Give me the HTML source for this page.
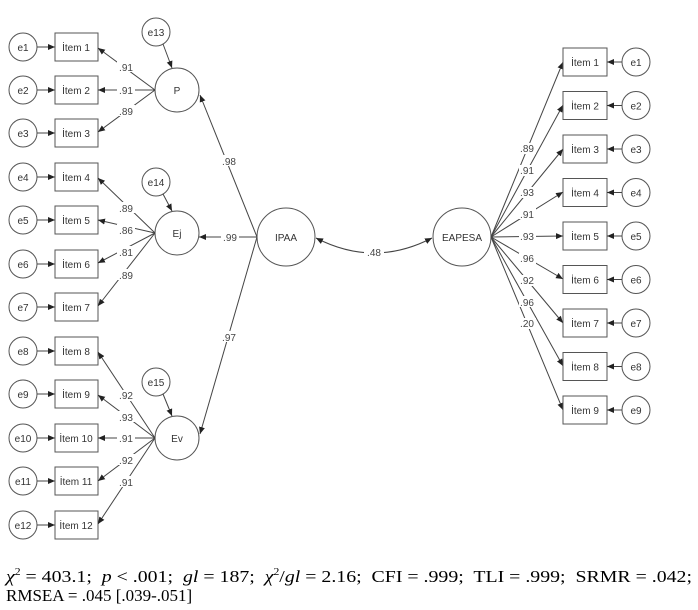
<!DOCTYPE html>
<html><head><meta charset="utf-8"><style>
body{margin:0;background:#fff;}
svg{display:block;font-family:"Liberation Sans",Arial,sans-serif;}
.t{font-size:10px;fill:#333;text-anchor:middle;}
.l{font-size:10px;fill:#444;text-anchor:middle;}
line,path{stroke:#444;stroke-width:1;fill:none;}
circle,rect{stroke:#555;stroke-width:1;fill:#fff;}
.st{white-space:pre;}
</style></head><body>
<svg width="698" height="610" viewBox="0 0 698 610">
<defs><marker id="a" markerWidth="8" markerHeight="8" refX="7" refY="3" orient="auto" markerUnits="userSpaceOnUse"><path d="M0,0 L7,3 L0,6 z" style="fill:#222;stroke:none"/></marker>
<marker id="s" markerWidth="8" markerHeight="8" refX="0" refY="3" orient="auto" markerUnits="userSpaceOnUse"><path d="M7,0 L0,3 L7,6 z" style="fill:#222;stroke:none"/></marker></defs>

<g>
<circle cx="23" cy="47" r="14"/><text class="t" x="23" y="51">e1</text><line x1="37" y1="47" x2="55" y2="47" marker-end="url(#a)"/><rect x="55" y="33" width="43" height="28"/><text class="t" x="76" y="51">İtem 1</text>
<circle cx="23" cy="90" r="14"/><text class="t" x="23" y="94">e2</text><line x1="37" y1="90" x2="55" y2="90" marker-end="url(#a)"/><rect x="55" y="76" width="43" height="28"/><text class="t" x="76" y="94">İtem 2</text>
<circle cx="23" cy="133" r="14"/><text class="t" x="23" y="137">e3</text><line x1="37" y1="133" x2="55" y2="133" marker-end="url(#a)"/><rect x="55" y="119" width="43" height="28"/><text class="t" x="76" y="137">İtem 3</text>
<circle cx="23" cy="177" r="14"/><text class="t" x="23" y="181">e4</text><line x1="37" y1="177" x2="55" y2="177" marker-end="url(#a)"/><rect x="55" y="163" width="43" height="28"/><text class="t" x="76" y="181">İtem 4</text>
<circle cx="23" cy="220" r="14"/><text class="t" x="23" y="224">e5</text><line x1="37" y1="220" x2="55" y2="220" marker-end="url(#a)"/><rect x="55" y="206" width="43" height="28"/><text class="t" x="76" y="224">İtem 5</text>
<circle cx="23" cy="264" r="14"/><text class="t" x="23" y="268">e6</text><line x1="37" y1="264" x2="55" y2="264" marker-end="url(#a)"/><rect x="55" y="250" width="43" height="28"/><text class="t" x="76" y="268">İtem 6</text>
<circle cx="23" cy="307" r="14"/><text class="t" x="23" y="311">e7</text><line x1="37" y1="307" x2="55" y2="307" marker-end="url(#a)"/><rect x="55" y="293" width="43" height="28"/><text class="t" x="76" y="311">İtem 7</text>
<circle cx="23" cy="351" r="14"/><text class="t" x="23" y="355">e8</text><line x1="37" y1="351" x2="55" y2="351" marker-end="url(#a)"/><rect x="55" y="337" width="43" height="28"/><text class="t" x="76" y="355">İtem 8</text>
<circle cx="23" cy="394" r="14"/><text class="t" x="23" y="398">e9</text><line x1="37" y1="394" x2="55" y2="394" marker-end="url(#a)"/><rect x="55" y="380" width="43" height="28"/><text class="t" x="76" y="398">İtem 9</text>
<circle cx="23" cy="438" r="14"/><text class="t" x="23" y="442">e10</text><line x1="37" y1="438" x2="55" y2="438" marker-end="url(#a)"/><rect x="55" y="424" width="43" height="28"/><text class="t" x="76" y="442">İtem 10</text>
<circle cx="23" cy="481" r="14"/><text class="t" x="23" y="485">e11</text><line x1="37" y1="481" x2="55" y2="481" marker-end="url(#a)"/><rect x="55" y="467" width="43" height="28"/><text class="t" x="76" y="485">İtem 11</text>
<circle cx="23" cy="525" r="14"/><text class="t" x="23" y="529">e12</text><line x1="37" y1="525" x2="55" y2="525" marker-end="url(#a)"/><rect x="55" y="511" width="43" height="28"/><text class="t" x="76" y="529">İtem 12</text>
</g>

<circle cx="177" cy="90" r="22"/><text class="t" x="177" y="94">P</text>
<circle cx="156" cy="32" r="14"/><text class="t" x="156" y="36">e13</text><line x1="163" y1="44" x2="172" y2="68" marker-end="url(#a)"/>
<circle cx="177" cy="233" r="22"/><text class="t" x="177" y="237">Ej</text>
<circle cx="156" cy="182" r="14"/><text class="t" x="156" y="186">e14</text><line x1="163" y1="194" x2="172" y2="211" marker-end="url(#a)"/>
<circle cx="177" cy="438" r="22"/><text class="t" x="177" y="442">Ev</text>
<circle cx="156" cy="382" r="14"/><text class="t" x="156" y="386">e15</text><line x1="163" y1="394" x2="172" y2="416" marker-end="url(#a)"/>

<line x1="155" y1="90" x2="98" y2="48" marker-end="url(#a)"/>
<line x1="155" y1="90" x2="98" y2="90" marker-end="url(#a)"/>
<line x1="155" y1="90" x2="98" y2="132" marker-end="url(#a)"/>
<line x1="155" y1="233" x2="98" y2="178" marker-end="url(#a)"/>
<line x1="155" y1="233" x2="98" y2="220" marker-end="url(#a)"/>
<line x1="155" y1="233" x2="98" y2="263" marker-end="url(#a)"/>
<line x1="155" y1="233" x2="98" y2="306" marker-end="url(#a)"/>
<line x1="155" y1="438" x2="98" y2="352" marker-end="url(#a)"/>
<line x1="155" y1="438" x2="98" y2="395" marker-end="url(#a)"/>
<line x1="155" y1="438" x2="98" y2="438" marker-end="url(#a)"/>
<line x1="155" y1="438" x2="98" y2="481" marker-end="url(#a)"/>
<line x1="155" y1="438" x2="98" y2="524" marker-end="url(#a)"/>
<g>
<rect x="117" y="61" width="18" height="11" style="stroke:none"/><text class="l" x="126" y="71">.91</text>
<rect x="117" y="85" width="18" height="11" style="stroke:none"/><text class="l" x="126" y="94">.91</text>
<rect x="117" y="105" width="18" height="11" style="stroke:none"/><text class="l" x="126" y="115">.89</text>
<rect x="117" y="202" width="18" height="11" style="stroke:none"/><text class="l" x="126" y="212">.89</text>
<rect x="117" y="224" width="18" height="11" style="stroke:none"/><text class="l" x="126" y="234">.86</text>
<rect x="117" y="246" width="18" height="11" style="stroke:none"/><text class="l" x="126" y="256">.81</text>
<rect x="117" y="269" width="18" height="11" style="stroke:none"/><text class="l" x="126" y="279">.89</text>
<rect x="117" y="390" width="18" height="11" style="stroke:none"/><text class="l" x="126" y="399">.92</text>
<rect x="117" y="411" width="18" height="11" style="stroke:none"/><text class="l" x="126" y="421">.93</text>
<rect x="117" y="433" width="18" height="11" style="stroke:none"/><text class="l" x="126" y="442">.91</text>
<rect x="117" y="454" width="18" height="11" style="stroke:none"/><text class="l" x="126" y="464">.92</text>
<rect x="117" y="476" width="18" height="11" style="stroke:none"/><text class="l" x="126" y="486">.91</text>
</g>

<circle cx="286" cy="237" r="29"/><text class="t" x="286" y="241">IPAA</text>
<line x1="257" y1="237" x2="200" y2="95" marker-end="url(#a)"/>
<line x1="257" y1="237" x2="199" y2="237" marker-end="url(#a)"/>
<line x1="257" y1="237" x2="200" y2="434" marker-end="url(#a)"/>
<rect x="220" y="155" width="18" height="11" style="stroke:none"/><text class="l" x="229" y="165">.98</text>
<rect x="221" y="232" width="18" height="11" style="stroke:none"/><text class="l" x="230" y="241">.99</text>
<rect x="220" y="331" width="18" height="11" style="stroke:none"/><text class="l" x="229" y="341">.97</text>

<path d="M316,238 Q374,268 432,238" marker-start="url(#s)" marker-end="url(#a)"/>
<rect x="364" y="246" width="20" height="11" style="stroke:none"/><text class="l" x="374" y="256">.48</text>

<circle cx="462" cy="237" r="29"/><text class="t" x="462" y="241">EAPESA</text>
<line x1="491" y1="237" x2="563" y2="62" marker-end="url(#a)"/>
<line x1="491" y1="237" x2="563" y2="105" marker-end="url(#a)"/>
<line x1="491" y1="237" x2="563" y2="149" marker-end="url(#a)"/>
<line x1="491" y1="237" x2="563" y2="192" marker-end="url(#a)"/>
<line x1="491" y1="237" x2="563" y2="236" marker-end="url(#a)"/>
<line x1="491" y1="237" x2="563" y2="279" marker-end="url(#a)"/>
<line x1="491" y1="237" x2="563" y2="323" marker-end="url(#a)"/>
<line x1="491" y1="237" x2="563" y2="366" marker-end="url(#a)"/>
<line x1="491" y1="237" x2="563" y2="410" marker-end="url(#a)"/>
<rect x="519" y="143" width="17" height="11" style="stroke:none"/><text class="l" x="527" y="152">.89</text>
<rect x="519" y="165" width="17" height="11" style="stroke:none"/><text class="l" x="527" y="174">.91</text>
<rect x="519" y="187" width="17" height="11" style="stroke:none"/><text class="l" x="527" y="196">.93</text>
<rect x="519" y="208" width="17" height="11" style="stroke:none"/><text class="l" x="527" y="218">.91</text>
<rect x="519" y="231" width="17" height="11" style="stroke:none"/><text class="l" x="527" y="240">.93</text>
<rect x="519" y="253" width="17" height="11" style="stroke:none"/><text class="l" x="527" y="262">.96</text>
<rect x="519" y="275" width="17" height="11" style="stroke:none"/><text class="l" x="527" y="284">.92</text>
<rect x="519" y="296" width="17" height="11" style="stroke:none"/><text class="l" x="527" y="306">.96</text>
<rect x="519" y="318" width="17" height="11" style="stroke:none"/><text class="l" x="527" y="327">.20</text>

<rect x="563" y="48" width="44" height="28"/><text class="t" x="585" y="66">İtem 1</text><circle cx="636" cy="62" r="14"/><text class="t" x="636" y="66">e1</text><line x1="622" y1="62" x2="607" y2="62" marker-end="url(#a)"/>
<rect x="563" y="91.5" width="44" height="28"/><text class="t" x="585" y="109.5">İtem 2</text><circle cx="636" cy="105.5" r="14"/><text class="t" x="636" y="109.5">e2</text><line x1="622" y1="105.5" x2="607" y2="105.5" marker-end="url(#a)"/>
<rect x="563" y="135" width="44" height="28"/><text class="t" x="585" y="153">İtem 3</text><circle cx="636" cy="149" r="14"/><text class="t" x="636" y="153">e3</text><line x1="622" y1="149" x2="607" y2="149" marker-end="url(#a)"/>
<rect x="563" y="178.5" width="44" height="28"/><text class="t" x="585" y="196.5">İtem 4</text><circle cx="636" cy="192.5" r="14"/><text class="t" x="636" y="196.5">e4</text><line x1="622" y1="192.5" x2="607" y2="192.5" marker-end="url(#a)"/>
<rect x="563" y="222" width="44" height="28"/><text class="t" x="585" y="240">İtem 5</text><circle cx="636" cy="236" r="14"/><text class="t" x="636" y="240">e5</text><line x1="622" y1="236" x2="607" y2="236" marker-end="url(#a)"/>
<rect x="563" y="265.5" width="44" height="28"/><text class="t" x="585" y="283.5">İtem 6</text><circle cx="636" cy="279.5" r="14"/><text class="t" x="636" y="283.5">e6</text><line x1="622" y1="279.5" x2="607" y2="279.5" marker-end="url(#a)"/>
<rect x="563" y="309" width="44" height="28"/><text class="t" x="585" y="327">İtem 7</text><circle cx="636" cy="323" r="14"/><text class="t" x="636" y="327">e7</text><line x1="622" y1="323" x2="607" y2="323" marker-end="url(#a)"/>
<rect x="563" y="352.5" width="44" height="28"/><text class="t" x="585" y="370.5">İtem 8</text><circle cx="636" cy="366.5" r="14"/><text class="t" x="636" y="370.5">e8</text><line x1="622" y1="366.5" x2="607" y2="366.5" marker-end="url(#a)"/>
<rect x="563" y="396" width="44" height="28"/><text class="t" x="585" y="414">İtem 9</text><circle cx="636" cy="410" r="14"/><text class="t" x="636" y="414">e9</text><line x1="622" y1="410" x2="607" y2="410" marker-end="url(#a)"/>

<g style="font-family:'Liberation Serif','Times New Roman',serif;font-size:17px;fill:#000">
<text class="st" x="6" y="582" textLength="686" lengthAdjust="spacingAndGlyphs"><tspan font-style="italic">χ</tspan><tspan font-size="10" dy="-7">2</tspan><tspan dy="7"> = 403.1;  </tspan><tspan font-style="italic">p</tspan><tspan> &lt; .001;  </tspan><tspan font-style="italic">gl</tspan><tspan> = 187;  </tspan><tspan font-style="italic">χ</tspan><tspan font-size="10" dy="-7">2</tspan><tspan dy="7">/</tspan><tspan font-style="italic">gl</tspan><tspan> = 2.16;  CFI = .999;  TLI = .999;  SRMR = .042;</tspan></text>
<text x="6" y="601">RMSEA = .045 [.039-.051]</text>
</g>
</svg>
</body></html>
